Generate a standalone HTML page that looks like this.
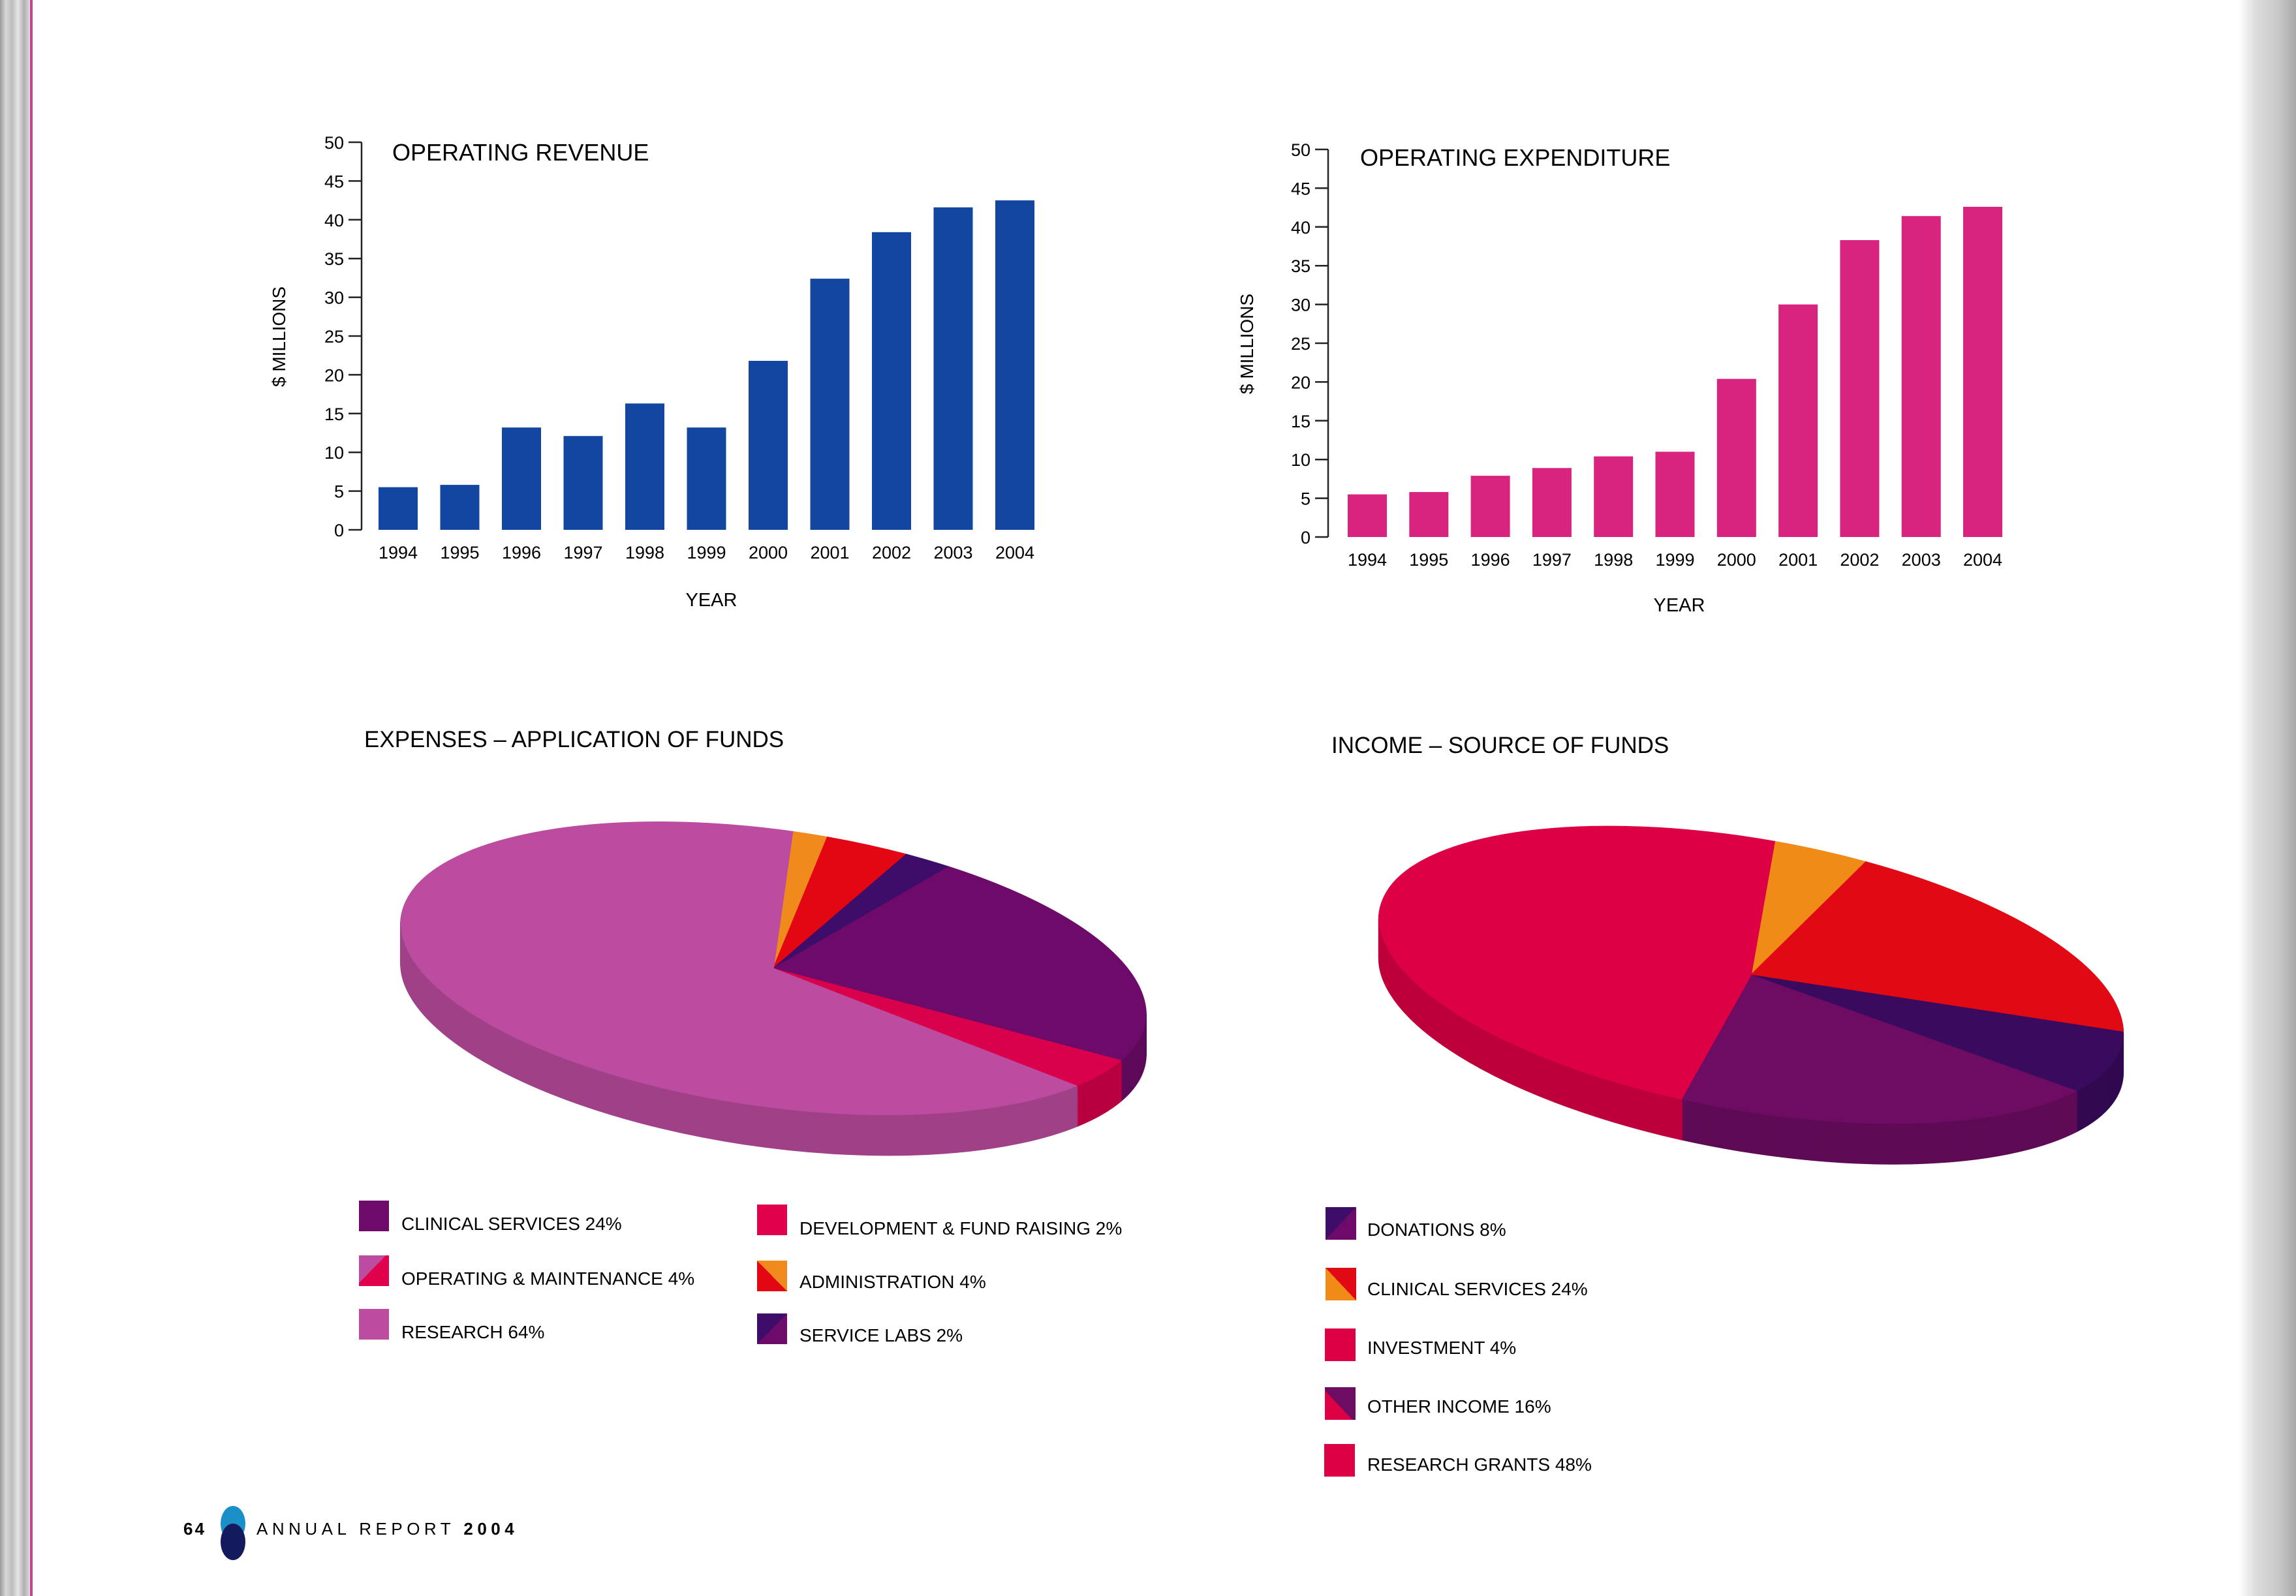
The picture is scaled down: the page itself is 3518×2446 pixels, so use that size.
<!DOCTYPE html>
<html><head><meta charset="utf-8">
<style>
html,body{margin:0;padding:0;}
body{width:3518px;height:2446px;position:relative;overflow:hidden;background:#fff;font-family:"Liberation Sans",sans-serif;color:#1a1a1a;}
#binding{position:absolute;left:0;top:0;width:46px;height:2446px;background:linear-gradient(90deg,#9a9a9a,#d8d8d8 20%,#bdbdbd 40%,#e6e6e6 60%,#b0b0b0 80%,#dcdcdc);}
#binding-line{position:absolute;left:46px;top:0;width:4px;height:2446px;background:#c2458f;}
#edge{position:absolute;left:3430px;top:0;width:88px;height:2446px;background:linear-gradient(90deg,rgba(255,255,255,1),#dcdcdc 30%,#c8c8c8 70%,#a8a8a8);}
svg{position:absolute;left:0;top:0;}
</style></head>
<body>
<div id="binding"></div>
<div id="binding-line"></div>
<div id="edge"></div>
<svg id="main" width="3518" height="2446" xmlns="http://www.w3.org/2000/svg" font-family="Liberation Sans, sans-serif">
  <defs>
    <linearGradient id="lg-om" x1="0" y1="0" x2="1" y2="1"><stop offset="0.45" stop-color="#bc4ca0"/><stop offset="0.45" stop-color="#e0004c"/></linearGradient>
    <linearGradient id="lg-admin" x1="0" y1="1" x2="1" y2="0"><stop offset="0.5" stop-color="#e30613"/><stop offset="0.5" stop-color="#f08a1c"/></linearGradient>
    <linearGradient id="lg-labs" x1="0" y1="0" x2="1" y2="1"><stop offset="0.5" stop-color="#3e0d6a"/><stop offset="0.5" stop-color="#6e0a6a"/></linearGradient>
    <linearGradient id="lg-don" x1="0" y1="0" x2="1" y2="1"><stop offset="0.5" stop-color="#3e0d6a"/><stop offset="0.5" stop-color="#6e0a6a"/></linearGradient>
    <linearGradient id="lg-clin" x1="0" y1="1" x2="1" y2="0"><stop offset="0.5" stop-color="#ef8b16"/><stop offset="0.5" stop-color="#e10a14"/></linearGradient>
    <linearGradient id="lg-other" x1="0" y1="1" x2="1" y2="0"><stop offset="0.45" stop-color="#de0045"/><stop offset="0.45" stop-color="#6e0c64"/></linearGradient>
  </defs>

  <text x="601" y="246" font-size="36">OPERATING REVENUE</text>
  <text transform="translate(437,516) rotate(-90)" text-anchor="middle" font-size="28">$ MILLIONS</text>
  <text x="1090" y="929" text-anchor="middle" font-size="29">YEAR</text>
  <g id="rev"></g>

  <text x="2084" y="254" font-size="36">OPERATING EXPENDITURE</text>
  <text transform="translate(1920,527) rotate(-90)" text-anchor="middle" font-size="28">$ MILLIONS</text>
  <text x="2573" y="937" text-anchor="middle" font-size="29">YEAR</text>
  <g id="exp"></g>

  <text x="558" y="1145" font-size="35">EXPENSES – APPLICATION OF FUNDS</text>
  <text x="2040" y="1154" font-size="35">INCOME – SOURCE OF FUNDS</text>
  <g id="pie1"></g>
  <g id="pie2"></g>

  <g font-size="28">
    <g><rect x="550" y="1840" width="46" height="47" fill="#6e0a6a"/><text x="615" y="1885">CLINICAL SERVICES 24%</text></g>
    <g><rect x="550" y="1924" width="46" height="47" fill="url(#lg-om)"/><text x="615" y="1969">OPERATING &amp; MAINTENANCE 4%</text></g>
    <g><rect x="550" y="2006" width="46" height="47" fill="#bc4ca0"/><text x="615" y="2051">RESEARCH 64%</text></g>
    <g><rect x="1160" y="1846" width="46" height="47" fill="#e0004c"/><text x="1225" y="1892">DEVELOPMENT &amp; FUND RAISING 2%</text></g>
    <g><rect x="1160" y="1932" width="46" height="47" fill="url(#lg-admin)"/><text x="1225" y="1974">ADMINISTRATION 4%</text></g>
    <g><rect x="1160" y="2013" width="46" height="47" fill="url(#lg-labs)"/><text x="1225" y="2056">SERVICE LABS 2%</text></g>
  </g>
  <g font-size="28">
    <g><rect x="2031" y="1850" width="47" height="50" fill="url(#lg-don)"/><text x="2095" y="1894">DONATIONS 8%</text></g>
    <g><rect x="2031" y="1943" width="47" height="50" fill="url(#lg-clin)"/><text x="2095" y="1985">CLINICAL SERVICES 24%</text></g>
    <g><rect x="2030" y="2036" width="47" height="50" fill="#de0045"/><text x="2095" y="2075">INVESTMENT 4%</text></g>
    <g><rect x="2030" y="2126" width="47" height="50" fill="url(#lg-other)"/><text x="2095" y="2165">OTHER INCOME 16%</text></g>
    <g><rect x="2029" y="2213" width="47" height="50" fill="#de0045"/><text x="2095" y="2254">RESEARCH GRANTS 48%</text></g>
  </g>

  <g>
    <text x="281" y="2352" font-size="26" font-weight="bold" letter-spacing="3">64</text>
    <ellipse cx="357" cy="2335" rx="19" ry="27" fill="#1a8fc8"/>
    <ellipse cx="357" cy="2363" rx="19" ry="28" fill="#131a5e"/>
    <text x="393" y="2352" font-size="26" letter-spacing="6.5">ANNUAL REPORT <tspan font-weight="bold">2004</tspan></text>
  </g>
</svg>
<script>
const years = ["1994","1995","1996","1997","1998","1999","2000","2001","2002","2003","2004"];
const revenueValues = [5.5, 5.8, 13.2, 12.1, 16.3, 13.2, 21.8, 32.4, 38.4, 41.6, 42.5];
const expenditureValues = [5.5, 5.8, 7.9, 8.9, 10.4, 11.0, 20.4, 30.0, 38.3, 41.4, 42.6];
const yTicks = [0,5,10,15,20,25,30,35,40,45,50];
const expenseLabels = ["administration-orange","administration-red","service-labs","clinical-services","development","research"];
const expenseValues = [1.5, 3.5, 2, 23, 4, 66];
const incomeLabels = ["investment","clinical-services","donations","other-income","research-grants"];
const incomeValues = [4, 20, 8, 20, 48];

const NS = "http://www.w3.org/2000/svg";
function mk(tag, attrs, parent){const e=document.createElementNS(NS,tag);for(const k in attrs)e.setAttribute(k,attrs[k]);parent.appendChild(e);return e;}

function barChart(gid, vals, cfg){
  const g=document.getElementById(gid);
  const yS=v=>cfg.y0-v*(cfg.y0-cfg.y50)/50;
  const xS=i=>cfg.x1+i*(cfg.x2-cfg.x1)/(years.length-1);
  const ax=mk('line',{x1:cfg.ax,y1:cfg.y50,x2:cfg.ax,y2:cfg.y0,stroke:'#222','stroke-width':2.5},g);
  
  
  yTicks.forEach(t=>{
    const tk=mk('line',{x1:cfg.ax-20,y1:yS(t),x2:cfg.ax,y2:yS(t),stroke:'#222','stroke-width':2.5},g);
    
    
    const tl=mk('text',{x:cfg.ax-27,y:yS(t)+10,'text-anchor':'end','font-size':27},g);
    tl.textContent=t;
    
    
  });
  vals.forEach((v,i)=>{
    const b=mk('rect',{x:xS(i)-30,y:yS(v),width:60,height:yS(0)-yS(v),fill:cfg.color},g);
    
    
    const l=mk('text',{x:xS(i),y:cfg.y0+44,'text-anchor':'middle','font-size':27},g);
    l.textContent=years[i];
    
    
  });
}
barChart('rev', revenueValues, {ax:554,y0:812,y50:218,x1:610,x2:1555,color:'#1346a0'});
barChart('exp', expenditureValues, {ax:2035,y0:823,y50:229,x1:2095,x2:3038,color:'#d8247e'});

function shade(hex,f){const n=parseInt(hex.slice(1),16);const r=Math.round(((n>>16)&255)*f),g=Math.round(((n>>8)&255)*f),b=Math.round((n&255)*f);return 'rgb('+r+','+g+','+b+')';}
function pie(gid, vals, labels, colors, cfg){
  const g=document.getElementById(gid);
  const total=vals.reduce((a,b)=>a+b,0);
  const slices=[];let a=-Math.PI/2;
  vals.forEach((v,i)=>{const s=a;a+=v/total*2*Math.PI;slices.push([s,a]);});
  function path(s,e){const large=(e-s)>Math.PI?1:0;return 'M0,0 L'+Math.cos(s)+','+Math.sin(s)+' A1,1 0 '+large+' 1 '+Math.cos(e)+','+Math.sin(e)+' Z';}
  for(let d=cfg.depth; d>0; d-=2){
    const layer=mk('g',{transform:'translate('+cfg.cx+','+(cfg.cy+d)+') rotate('+cfg.rot+') scale('+cfg.a+','+cfg.b+')'},g);
    
    
    slices.forEach((s,i)=>{
      const p=mk('path',{d:path(s[0],s[1]),fill:shade(colors[i],0.85),stroke:shade(colors[i],0.85),'stroke-width':0.006},layer);
      
      
    });
  }
  const top=mk('g',{transform:'translate('+cfg.cx+','+cfg.cy+') rotate('+cfg.rot+') scale('+cfg.a+','+cfg.b+')'},g);
  
  
  slices.forEach((s,i)=>{
    const p=mk('path',{d:path(s[0],s[1]),fill:colors[i],stroke:colors[i],'stroke-width':0.003},top);
    
    
  });
}
pie('pie1', expenseValues, expenseLabels, ['#f08a1c','#e30613','#3e0d6a','#6e0a6a','#d9004c','#bc4ca0'], {cx:1185,cy:1484,a:575,b:212,rot:8,depth:62});
pie('pie2', incomeValues, incomeLabels, ['#ef8b16','#e10a14','#3a0a5e','#6e0c64','#de0045'], {cx:2683,cy:1494,a:577,b:208,rot:10,depth:62});
</script>
</body></html>
